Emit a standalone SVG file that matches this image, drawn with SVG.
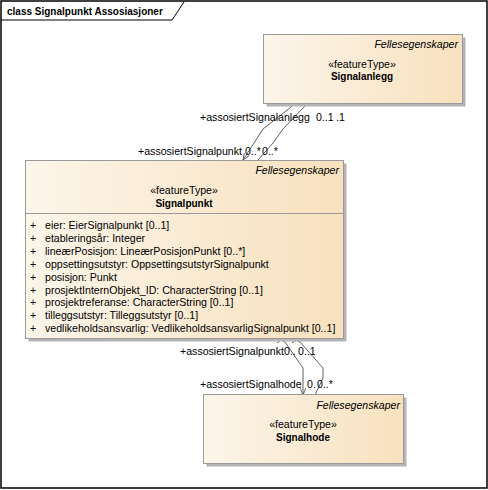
<svg xmlns="http://www.w3.org/2000/svg" width="488" height="490" viewBox="0 0 488 490">
<defs>
<linearGradient id="g" x1="0" y1="0" x2="1" y2="0">
<stop offset="0" stop-color="#FCF5EA"/>
<stop offset="1" stop-color="#F8E1BE"/>
</linearGradient>
<marker id="arr" viewBox="0 0 10 10" refX="10" refY="5" markerWidth="7" markerHeight="7" orient="auto" markerUnits="userSpaceOnUse">
<path d="M0,1 L10,5 L0,9" fill="none" stroke="#555" stroke-width="1.3"/>
</marker>
</defs>
<style>
text{font-family:"Liberation Sans",Arial,sans-serif;font-size:10.6px;fill:#000}
.b{font-weight:bold;font-size:10px}
.i{font-style:italic}
.m{text-anchor:middle}
.e{text-anchor:end}
.box{fill:url(#g);stroke:#9a9a9a;stroke-width:1}
.sh{fill:#b4b4b4}
.ln{fill:none;stroke:#606060;stroke-width:1}
</style>
<rect x="0" y="0" width="488" height="490" fill="#fff"/>
<g id="frame">
<rect x="1" y="1" width="486" height="487" fill="none" stroke="#000" stroke-width="1.5"/>
<path d="M1,20 L172,20 L184,2" fill="none" stroke="#000" stroke-width="1"/>
<text x="7" y="15" class="b">class Signalpunkt Assosiasjoner</text>
</g>
<g id="connectors">
<polyline class="ln" points="303,104 294,104 291,107 263,129 254,143 243,160" marker-end="url(#arr)"/>
<polyline class="ln" points="317,104 307,104 304,107 283,129 273,143 258,160"/>
<polyline class="ln" points="277,343 281,340 285,342 303,368 303,395" marker-end="url(#arr)"/>
<polyline class="ln" points="292,343 296,340 300,342 323,368 323,378 315,395"/>
<text x="200" y="121">+assosiertSignalanlegg</text>
<text x="316" y="121">0..1</text>
<text x="336" y="121">.1</text>
<text x="138" y="155">+assosiertSignalpunkt</text>
<text x="245" y="155">0..*</text>
<text x="262" y="155">0..*</text>
<text x="180" y="355">+assosiertSignalpunkt</text>
<text x="284" y="355">0..</text>
<text x="298" y="355">0..1</text>
<text x="200" y="388">+assosiertSignalhode</text>
<text x="307" y="388">0.</text>
<text x="317" y="388">0..*</text>
</g>
<g id="Signalanlegg">
<rect class="sh" x="266.5" y="37.5" width="199" height="69"/>
<rect class="box" x="263.5" y="34.5" width="199" height="69"/>
<text x="458" y="48" class="i e">Fellesegenskaper</text>
<text x="362" y="68" class="m">«featureType»</text>
<text x="362" y="80" class="b m">Signalanlegg</text>
</g>
<g id="Signalpunkt">
<rect class="sh" x="28.5" y="163.5" width="318" height="178"/>
<rect class="box" x="25.5" y="160.5" width="318" height="178"/>
<line x1="25.5" y1="213.5" x2="343.5" y2="213.5" stroke="#9a9a9a"/>
<text x="339" y="174" class="i e">Fellesegenskaper</text>
<text x="184" y="194" class="m">«featureType»</text>
<text x="184" y="207" class="b m">Signalpunkt</text>
<text x="30" y="229">+</text><text x="45" y="229">eier: EierSignalpunkt [0..1]</text>
<text x="30" y="242">+</text><text x="45" y="242">etableringsår: Integer</text>
<text x="30" y="255">+</text><text x="45" y="255">lineærPosisjon: LineærPosisjonPunkt [0..*]</text>
<text x="30" y="268">+</text><text x="45" y="268">oppsettingsutstyr: OppsettingsutstyrSignalpunkt</text>
<text x="30" y="281">+</text><text x="45" y="281">posisjon: Punkt</text>
<text x="30" y="294">+</text><text x="45" y="294">prosjektInternObjekt_ID: CharacterString [0..1]</text>
<text x="30" y="306">+</text><text x="45" y="306">prosjektreferanse: CharacterString [0..1]</text>
<text x="30" y="319">+</text><text x="45" y="319">tilleggsutstyr: Tilleggsutstyr [0..1]</text>
<text x="30" y="332">+</text><text x="45" y="332">vedlikeholdsansvarlig: VedlikeholdsansvarligSignalpunkt [0..1]</text>
</g>
<g id="Signalhode">
<rect class="sh" x="206.5" y="397.5" width="200" height="69"/>
<rect class="box" x="203.5" y="394.5" width="200" height="69"/>
<text x="400" y="409" class="i e">Fellesegenskaper</text>
<text x="303" y="428" class="m">«featureType»</text>
<text x="303" y="441" class="b m">Signalhode</text>
</g>
</svg>
